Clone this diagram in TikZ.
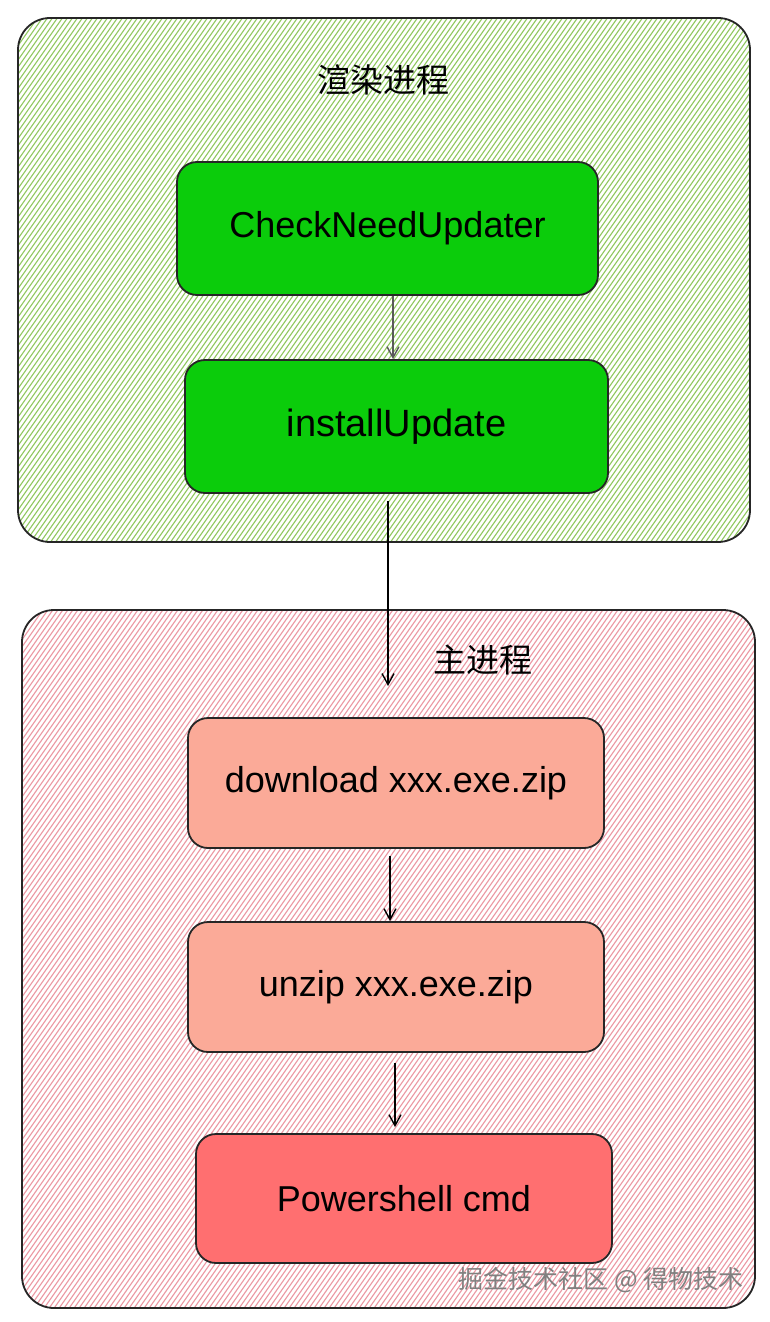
\documentclass[tikz,border=0pt]{standalone}
\usepackage{fontspec}
\setmainfont{Liberation Sans}
\newfontfamily\cjk{Noto Sans CJK SC}
\usetikzlibrary{arrows.meta,calc}
\definecolor{gfill}{HTML}{0BCC0B}
\definecolor{ghatch}{HTML}{90C860}
\definecolor{rhatch}{HTML}{EC98A3}
\definecolor{salmon}{HTML}{FBAA98}
\definecolor{rose}{HTML}{FF6F70}
\tikzset{
  container/.style n args={1}{draw=black!85, line width=1.8pt, rounded corners=32pt, fill=white,
    path picture={\foreach \i in {-1600,-1595,...,900}
      \draw[#1, line width=1.1pt] (\i pt,-1000pt) -- ++(1400pt,2000pt);}},
  box/.style={draw=black!85, line width=1.8pt, rounded corners=20pt, font=\fontsize{36}{40}\selectfont},
  title/.style={font=\cjk\fontsize{33}{36}\selectfont},
  link/.style={-{Straight Barb[length=11pt,width=12pt,line width=1.4pt]}, line width=1.6pt},
}
\begin{document}
\begin{tikzpicture}[x=1pt,y=-1pt]
\useasboundingbox (0,0) rectangle (770,1322);
% containers
\node[container=ghatch, minimum width=732pt, minimum height=524pt] (render) at (384,280) {};
\node[container=rhatch, minimum width=733pt, minimum height=698pt] (main) at (388.5,959) {};
\node[title] (rt) at (383,80) {渲染进程};
\node[title] (mt) at (483,660) {主进程};
% boxes
\node[box, fill=gfill, minimum width=421pt, minimum height=133pt] (check) at (387.5,228.5) {CheckNeedUpdater};
\node[box, fill=gfill, minimum width=423pt, minimum height=133pt, font=\fontsize{38}{42}\selectfont] (install) at (396.5,426.5) {installUpdate};
\node[box, fill=salmon, minimum width=416pt, minimum height=130pt] (down) at (396,783) {download xxx.exe.zip};
\node[box, fill=salmon, minimum width=416pt, minimum height=130pt] (unzip) at (396,987) {unzip xxx.exe.zip};
\node[box, fill=rose, minimum width=416pt, minimum height=129pt] (ps) at (404,1198.5) {Powershell cmd};
% arrows
\coordinate (enter) at (388,686);
\draw[link, draw=black!65] (check.south -| 393,0) -- (install.north -| 393,0);
\draw[link, line width=2.2pt] (install.south -| 388,0) ++(0,7) -- (enter);
\draw[link] ($(down.south -| 390,0)+(0,7)$) -- (unzip.north -| 390,0);
\draw[link] ($(unzip.south -| 395,0)+(0,10)$) -- ($(ps.north -| 395,0)+(0,-6)$);
% watermark
\node[font=\cjk\fontsize{25}{28}\selectfont, text=black!50] (wm) at (601,1280) {掘金技术社区 @ 得物技术};
\end{tikzpicture}
\end{document}
